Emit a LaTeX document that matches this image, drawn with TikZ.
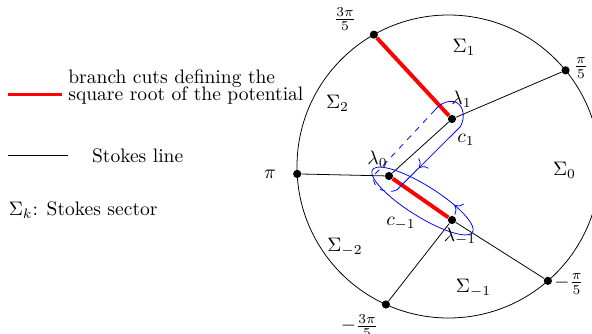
\documentclass[tikz,border=0pt]{standalone}
\usetikzlibrary{decorations.markings, arrows.meta}

\tikzset{
  stokes/.style={black},
  cut/.style={red, line width=2pt},
  contour/.style={blue},
  branchpt/.style={circle, fill=black, inner sep=0pt, minimum size=4.2pt},
  midarrow/.style={postaction={decorate, decoration={markings,
      mark=at position #1 with {\arrow{To[scale=1.4]}}}}},
}

\begin{document}
\begin{tikzpicture}[x=0.018cm, y=0.018cm]
\useasboundingbox (-448.5,-166.5) rectangle (143.5,166.5);
\clip (-448.5,-166.5) rectangle (143.5,166.5);

% ===== LEFT: legend =====
\coordinate (cutA) at (-440.5,72);
\coordinate (cutB) at (-386.5,72);
\draw[cut] (cutA) -- (cutB);
\node[anchor=west, align=left, inner sep=0pt] (cuttext) at (-380.5,79.5)
  {branch cuts defining the\\[-3pt]square root of the potential};

\coordinate (lineA) at (-440.5,10.8);
\coordinate (lineB) at (-380.5,10.8);
\draw[stokes] (lineA) -- (lineB);
\node[anchor=west, inner sep=0pt] (linetext) at (-356.8,10.5) {Stokes line};

\node[anchor=west, inner sep=0pt] (sectortext) at (-440,-43.5) {$\Sigma_k$: Stokes sector};

% ===== RIGHT: Stokes sectors =====
\coordinate (O) at (0,0);
\draw (O) circle (151.5);

% points on the boundary
\node[branchpt] (p1) at (39.4:151.5) {};
\node[branchpt] (p3) at (119.5:151.5) {};
\node[branchpt] (p5) at (182.8:151.5) {};
\node[branchpt] (m3) at (-114.4:151.5) {};
\node[branchpt] (m1) at (-49:151.5) {};

% turning points
\node[branchpt] (l1) at (3.5,47.5) {};
\node[branchpt] (l0) at (-59.5,-9.5) {};
\node[branchpt] (lm1) at (3.5,-53.5) {};

% Stokes lines
\draw[stokes] (l1) -- (p1);
\draw[stokes] (l1) -- (l0);
\draw[stokes] (l0) -- (p5);
\draw[stokes] (lm1) -- (m1);
\draw[stokes] (lm1) -- (m3);

% branch cuts
\draw[cut] (p3) -- (l1);
\draw[cut] (l0) -- (lm1);

% contours
\draw[contour, midarrow=0.78] (-14,56) .. controls (-8,64) and (2,67) .. (8,64)
  .. controls (15,60) and (17,50) .. (12,40) -- (-51.8,-23.5);
\draw[contour, dashed] (-51.8,-23.5) .. controls (-62,-28) and (-76,-22) .. (-75,-11)
  .. controls (-74.5,-8) and (-72,-6) .. (-69,-3) -- (-14,56);
\draw[contour, midarrow=0.035, rotate around={-32:(-26,-34.5)}]
  ([shift={(50:59 and 15.5)}]-26,-34.5)
  arc [start angle=50, end angle=410, x radius=59, y radius=15.5];

% labels
\node at (-103.5,147.5) {$\frac{3\pi}{5}$};
\node at (132.5,98.5) {$\frac{\pi}{5}$};
\node at (-178.5,-8) {$\pi$};
\node at (120.5,-117.5) {$-\frac{\pi}{5}$};
\node at (-89,-159.5) {$-\frac{3\pi}{5}$};

\node at (15.5,119.5) {$\Sigma_1$};
\node at (-111,63) {$\Sigma_2$};
\node at (116,-3.5) {$\Sigma_0$};
\node at (-103.5,-80.5) {$\Sigma_{-2}$};
\node at (25,-122) {$\Sigma_{-1}$};

\node at (13,67.5) {$\lambda_1$};
\node at (-71,7.5) {$\lambda_0$};
\node at (11.5,-70) {$\lambda_{-1}$};
\node at (17.5,26.5) {$c_1$};
\node at (-47.5,-57.5) {$c_{-1}$};

\end{tikzpicture}
\end{document}
